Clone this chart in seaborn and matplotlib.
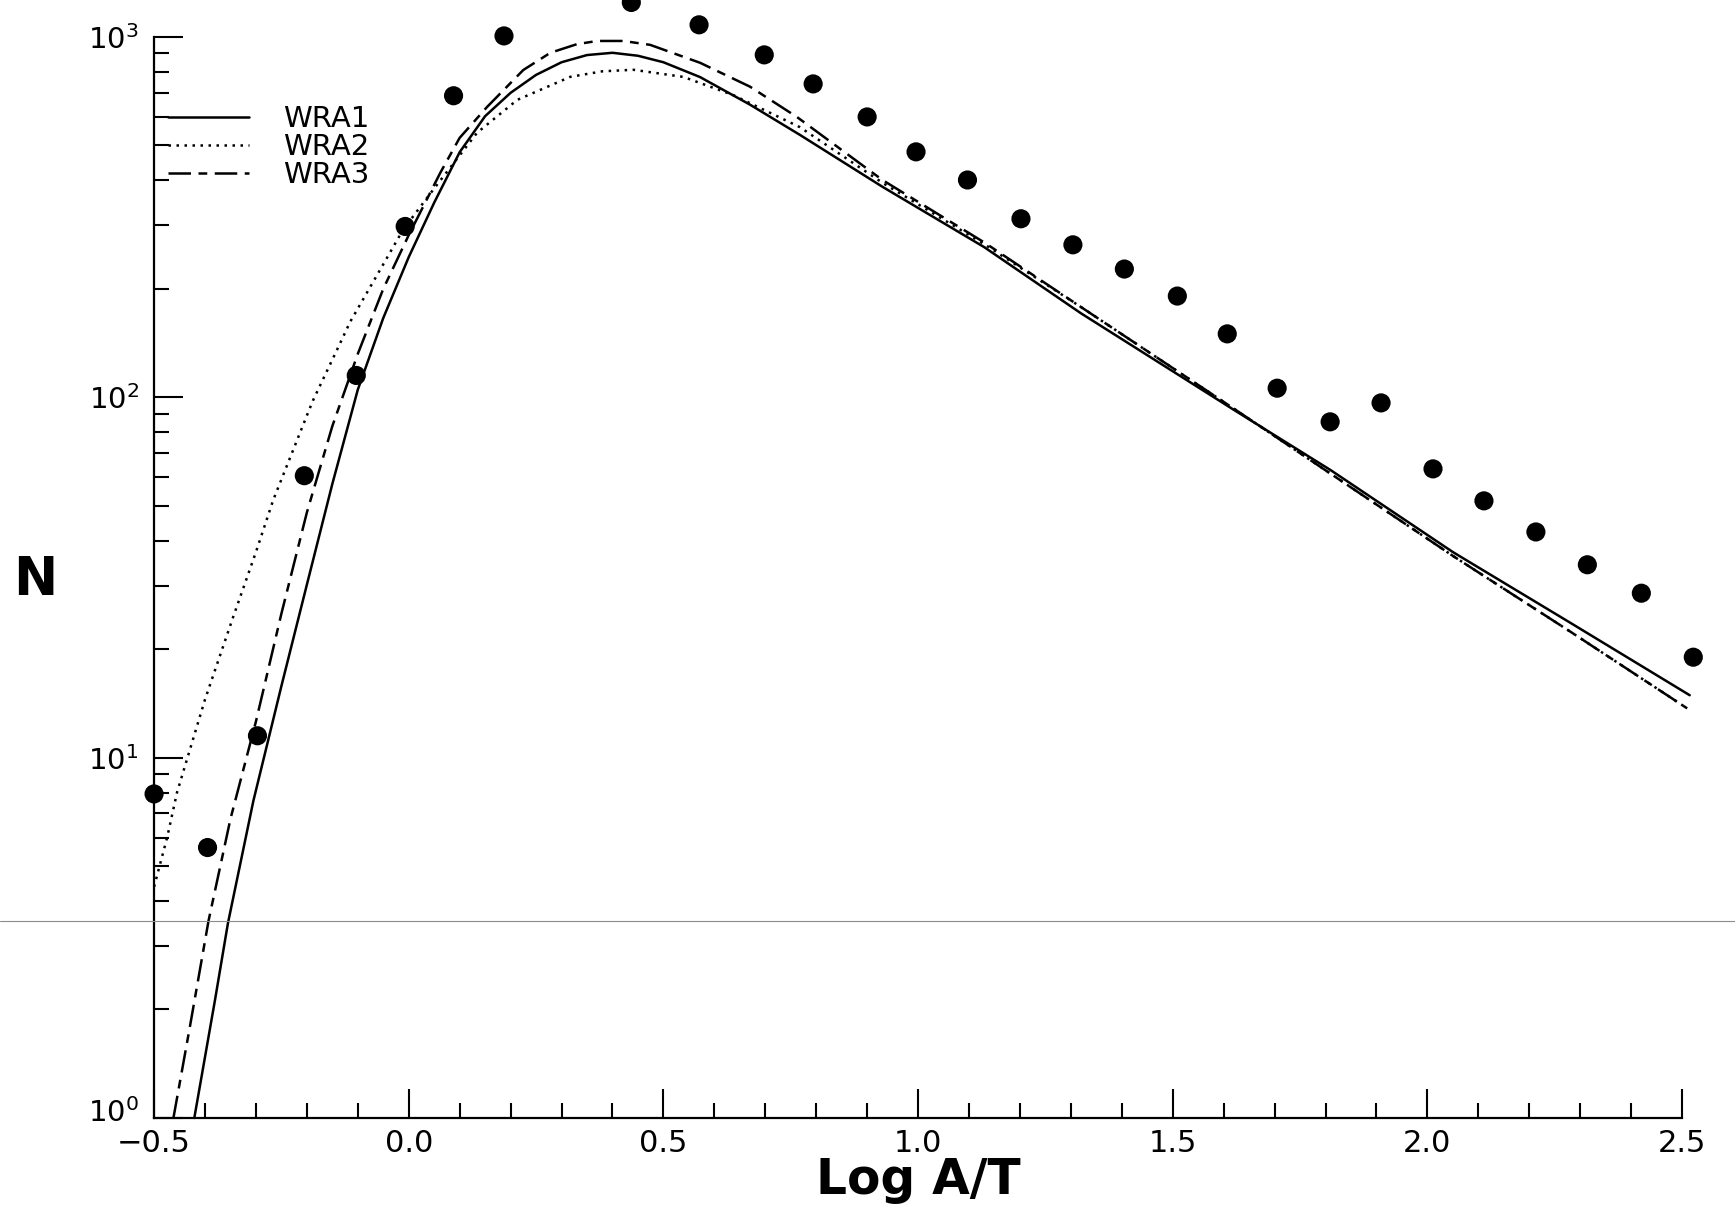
import numpy as np
import pandas as pd
import matplotlib
matplotlib.use("Agg")
import matplotlib.pyplot as plt
import matplotlib.transforms as mtransforms
from matplotlib.lines import Line2D
from matplotlib.ticker import MultipleLocator, LogLocator, FuncFormatter
import seaborn as sns

# Observed points (filled circles)
obs_x = [-0.50, -0.395, -0.297, -0.205, -0.103, -0.007, 0.088, 0.187, 0.437, 0.570,
         0.698, 0.794, 0.900, 0.996, 1.097, 1.202, 1.304, 1.405, 1.509, 1.607,
         1.705, 1.809, 1.909, 2.011, 2.111, 2.213, 2.314, 2.420, 2.522]
obs_n = [7.93, 5.63, 11.5, 60.6, 115, 298, 687, 1007, 1247, 1081,
         892, 741, 600, 480, 401, 313, 265, 227, 191, 150,
         106, 85.5, 96.5, 63.3, 51.6, 42.3, 34.3, 28.6, 19.0]

# WRA1 (solid)
wra1_x = [-0.421, -0.38, -0.355, -0.305, -0.25, -0.20, -0.15, -0.10, -0.05, 0.0,
          0.05, 0.10, 0.15, 0.20, 0.25, 0.30, 0.35, 0.40, 0.45, 0.50,
          0.572, 0.67, 0.768, 0.93, 1.13, 1.32, 1.62, 1.81, 2.05, 2.28, 2.515]
wra1_n = [1.0, 2.14, 3.47, 7.59, 15.8, 30.2, 57.5, 105, 166, 245,
          347, 479, 603, 700, 785, 851, 891, 904, 887, 851,
          774, 649, 535, 384, 261, 171, 92.3, 62.8, 37.2, 23.7, 14.9]

# WRA2 (dotted)
wra2_x = [-0.50, -0.474, -0.455, -0.40, -0.345, -0.30, -0.266, -0.20, -0.188, -0.135,
          -0.115, -0.05, -0.011, 0.05, 0.134, 0.213, 0.317, 0.38, 0.441, 0.539,
          0.637, 0.768, 0.93, 1.13, 1.32, 1.62, 2.05, 2.28, 2.51]
wra2_n = [4.38, 6.03, 8.0, 14.5, 24.5, 37.2, 51.9, 89, 98, 141,
          162, 234, 292, 380, 542, 669, 775, 803, 811, 775,
          690, 562, 394, 266, 178, 93, 36.3, 22.4, 13.7]

# WRA3 (dash-dot)
wra3_x = [-0.462, -0.43, -0.393, -0.35, -0.30, -0.25, -0.20, -0.15, -0.10, -0.05,
          0.0, 0.062, 0.10, 0.154, 0.225, 0.278, 0.33, 0.37, 0.421, 0.474,
          0.572, 0.67, 0.762, 0.93, 1.13, 1.32, 1.62, 2.05, 2.28, 2.51]
wra3_n = [1.0, 1.78, 3.53, 6.76, 12.6, 25.1, 47.9, 83.2, 132, 200,
          282, 420, 525, 640, 810, 904, 955, 975, 975, 951,
          848, 728, 600, 401, 269, 178, 93, 36.3, 22.4, 13.7]

sns.set_style("ticks")
plt.rcParams["font.family"] = ["DejaVu Sans"]
plt.rcParams.update({"text.color": "black", "axes.labelcolor": "black",
                     "xtick.color": "black", "ytick.color": "black",
                     "axes.edgecolor": "black"})

fig = plt.figure(figsize=(17.35, 12.09), dpi=100)
ax = fig.add_axes([0.0888, 0.0753, 0.8807, 0.8941])

lw = 1.8
sns.lineplot(x=wra1_x, y=wra1_n, ax=ax, color="black", lw=lw, label="WRA1",
             sort=False, clip_on=False)
sns.lineplot(x=wra2_x, y=wra2_n, ax=ax, color="black", lw=lw, label="WRA2",
             linestyle=(0, (1, 2.2)), sort=False, clip_on=False)
sns.lineplot(x=wra3_x, y=wra3_n, ax=ax, color="black", lw=lw, label="WRA3",
             linestyle=(0, (9, 3, 3.5, 3)), sort=False, clip_on=False)
sns.scatterplot(x=obs_x, y=obs_n, ax=ax, color="black", s=190, edgecolor="none",
                clip_on=False, zorder=5)

ax.set_yscale("log")
ax.set_xlim(-0.5, 2.5)
ax.set_ylim(1, 1000)

ax.xaxis.set_major_locator(MultipleLocator(0.5))
ax.xaxis.set_minor_locator(MultipleLocator(0.1))
ax.xaxis.set_major_formatter(FuncFormatter(lambda v, p: f"{v:.1f}".replace("-", "\u2212")))
ax.yaxis.set_major_locator(LogLocator(base=10))
ax.yaxis.set_minor_locator(LogLocator(base=10, subs=np.arange(2, 10)))

for s in ["top", "right"]:
    ax.spines[s].set_visible(False)
for s in ["left", "bottom"]:
    ax.spines[s].set_linewidth(1.6)

ax.tick_params(which="both", direction="in", width=1.5, top=False, right=False)
ax.tick_params(which="major", length=21)
ax.tick_params(which="minor", length=11)
ax.tick_params(axis="x", which="major", labelsize=22, pad=8)
ax.tick_params(axis="y", which="major", labelsize=21, pad=11)

ax.set_xlabel("Log A/T", fontsize=35, fontweight="bold", va="center")
ax.xaxis.set_label_coords(0.5, -0.057)
ax.set_ylabel("N", fontsize=38, fontweight="bold", rotation=0, va="center", ha="center")
ax.yaxis.set_label_coords(-0.078, 0.498)

ax.legend(loc="upper left", bbox_to_anchor=(0.009, 0.937), frameon=False,
          fontsize=21, handlelength=2.8, handletextpad=1.15, labelspacing=0.0,
          borderpad=0, borderaxespad=0)

# faint scanner line across the page
fig.add_artist(Line2D([0, 1], [0.2385, 0.2385], transform=fig.transFigure,
                      color="#8c8c8c", lw=0.8))

# lift the 10^0 label a little so it clears the -0.5 label
fig.canvas.draw()
for t in ax.yaxis.get_major_ticks():
    if np.isclose(t.get_loc(), 1.0):
        t.label1.set_transform(t.label1.get_transform() +
                               mtransforms.ScaledTranslation(0, 6 / 72, fig.dpi_scale_trans))

fig.savefig("out.png", dpi=100)
